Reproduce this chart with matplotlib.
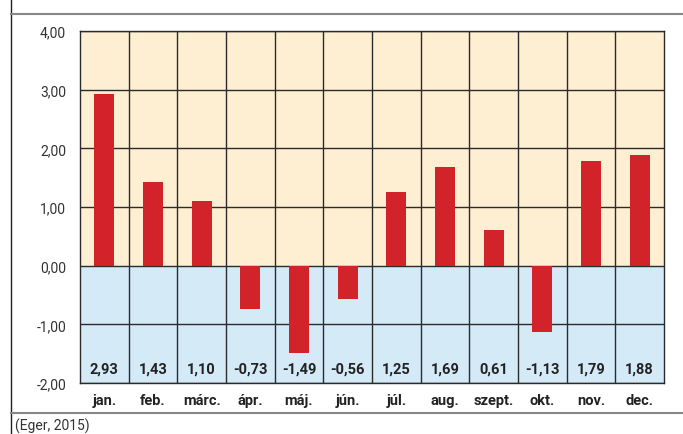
import matplotlib.pyplot as plt
from matplotlib.lines import Line2D

months = ['jan.', 'feb.', 'márc.', 'ápr.', 'máj.', 'jún.', 'júl.', 'aug.', 'szept.', 'okt.', 'nov.', 'dec.']
values = [2.93, 1.43, 1.10, -0.73, -1.49, -0.56, 1.25, 1.69, 0.61, -1.13, 1.79, 1.88]
yticks = [-2, -1, 0, 1, 2, 3, 4]
source = '(Eger, 2015)'

plt.rcParams['font.family'] = ['Roboto', 'DejaVu Sans']

fig = plt.figure(figsize=(6.83, 4.35), dpi=100)
ax = fig.add_axes([0.1171, 0.1172, 0.855, 0.8092])

n = len(months)
x = list(range(n))
ax.set_xlim(-0.5, n - 0.5)
ax.set_ylim(-2, 4)

# background bands
ax.axhspan(0, 4, color='#FEEFD3', zorder=0)
ax.axhspan(-2, 0, color='#D4EAF7', zorder=0)

# grid
for y in yticks:
    ax.axhline(y, color='#2b2b2b', lw=1.0, zorder=1)
for i in range(1, n):
    ax.axvline(i - 0.5, color='#2b2b2b', lw=1.0, zorder=1)

ax.bar(x, values, width=0.41, color='#D2232A', zorder=2)

for i, v in enumerate(values):
    ax.text(i, -1.75, ('%.2f' % v).replace('.', ','), ha='center', va='center',
            fontsize=10.5, fontweight='bold', color='#222222', zorder=3)

ax.set_yticks(yticks)
ax.set_yticklabels([('%.2f' % t).replace('.', ',') for t in yticks], fontsize=10, color='#333333')
ax.set_xticks(x)
ax.set_xticklabels(months, fontsize=10.5, fontweight='bold', color='#222222')
ax.tick_params(axis='both', length=0)
ax.tick_params(axis='y', pad=10)
ax.tick_params(axis='x', pad=7)
for s in ax.spines.values():
    s.set_color('#2b2b2b')
    s.set_linewidth(1.0)

# frame lines of the figure
fig.add_artist(Line2D([10.5 / 683, 10.5 / 683], [0, 1], color='#222222', lw=1.0))
fig.add_artist(Line2D([10.5 / 683, 1], [1 - 15 / 435, 1 - 15 / 435], color='#888888', lw=1.5))
fig.add_artist(Line2D([10.5 / 683, 1], [1 - 414 / 435, 1 - 414 / 435], color='#888888', lw=1.5))
fig.text(15 / 683, 1 - 426 / 435, source, fontsize=10, color='#333333', va='center')

fig.savefig('out.png', dpi=100)
